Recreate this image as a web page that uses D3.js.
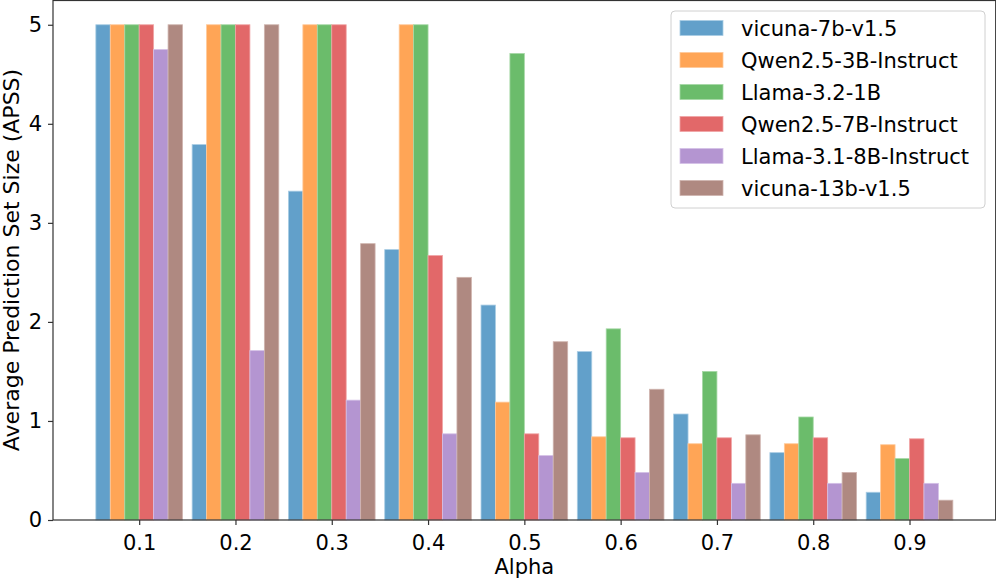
<!DOCTYPE html>
<html>
<head>
<meta charset="utf-8">
<script src="https://cdn.jsdelivr.net/npm/d3@7"></script>
<style>
  body { margin: 0; background: #fff; }
  text { font-family: "DejaVu Sans", sans-serif; fill: #000; }
</style>
</head>
<body>
<script>
// categories and series
var alphas = ["0.1", "0.2", "0.3", "0.4", "0.5", "0.6", "0.7", "0.8", "0.9"];
var models = ["vicuna-7b-v1.5", "Qwen2.5-3B-Instruct", "Llama-3.2-1B",
              "Qwen2.5-7B-Instruct", "Llama-3.1-8B-Instruct", "vicuna-13b-v1.5"];
var vicuna7b  = [5, 3.79, 3.32, 2.73, 2.17, 1.70, 1.07, 0.68, 0.28];
var qwen3b    = [5, 5, 5, 5, 1.19, 0.84, 0.77, 0.77, 0.76];
var llama1b   = [5, 5, 5, 5, 4.71, 1.93, 1.50, 1.04, 0.62];
var qwen7b    = [5, 5, 5, 2.67, 0.87, 0.83, 0.83, 0.83, 0.82];
var llama8b   = [4.75, 1.71, 1.21, 0.87, 0.65, 0.48, 0.37, 0.37, 0.37];
var vicuna13b = [5, 5, 2.79, 2.45, 1.80, 1.32, 0.86, 0.48, 0.20];
var yTicks = [0, 1, 2, 3, 4, 5];

var series = [vicuna7b, qwen3b, llama1b, qwen7b, llama8b, vicuna13b];
var colors = ["#62a0ca", "#ffa556", "#6bbc6b", "#e26869", "#b495d1", "#af8981"];
var edges  = ["#a9cce4", "#ffc99a", "#a6d8a6", "#f0a5a6", "#d4c0e6", "#cfb4ae"];

var W = 996, H = 579;
var margin = {top: 0, right: 0.3, bottom: 59, left: 53};
var width = W - margin.left - margin.right,
    height = H - margin.top - margin.bottom;

var barW = 0.15;
var x = d3.scaleLinear().domain([-0.895, 8.895]).range([0, width]);
var y = d3.scaleLinear().domain([0, 5.25]).range([height, 0]);

var svg = d3.select("body").append("svg")
    .attr("width", W).attr("height", H);
var g = svg.append("g")
    .attr("transform", "translate(" + margin.left + "," + margin.top + ")");

// bars
series.forEach(function(vals, s) {
  g.selectAll(".bar" + s)
    .data(vals)
    .enter().append("rect")
      .attr("x", function(d, i) { return x(i + (s - 3) * barW); })
      .attr("y", function(d) { return y(d); })
      .attr("width", x(barW) - x(0))
      .attr("height", function(d) { return y(0) - y(d); })
      .style("fill", colors[s])
      .style("stroke", edges[s])
      .style("stroke-width", 0.8);
});

// axes
var xAxis = g.append("g")
    .attr("transform", "translate(0," + height + ")")
    .call(d3.axisBottom(x).tickValues(d3.range(alphas.length))
      .tickFormat(function(i) { return alphas[i]; })
      .tickSize(5).tickPadding(6));
var yAxis = g.append("g")
    .call(d3.axisLeft(y).tickValues(yTicks).tickFormat(d3.format("d"))
      .tickSize(5).tickPadding(6));

[xAxis, yAxis].forEach(function(a) {
  a.select(".domain").remove();
  a.selectAll("line").attr("stroke", "#333").attr("stroke-width", 1.2);
  a.selectAll("text").style("font-size", "21px");
});
xAxis.selectAll("text").attr("dy", "0.9em");

// frame
g.append("rect")
  .attr("x", 0).attr("y", 0.5)
  .attr("width", width).attr("height", height - 0.5)
  .attr("fill", "none").attr("stroke", "#333").attr("stroke-width", 1.2);

// axis labels
svg.append("text")
  .attr("x", margin.left + width / 2).attr("y", 574)
  .attr("text-anchor", "middle").style("font-size", "21px")
  .text("Alpha");
svg.append("text")
  .attr("transform", "translate(19," + (height / 2) + ") rotate(-90)")
  .attr("text-anchor", "middle").style("font-size", "22px")
  .text("Average Prediction Set Size (APSS)");

// legend
var lg = svg.append("g").attr("transform", "translate(671,11)");
lg.append("rect")
  .attr("width", 314).attr("height", 197).attr("rx", 4)
  .attr("fill", "#fff").attr("fill-opacity", 0.8)
  .attr("stroke", "#d0d0d0").attr("stroke-width", 1);
models.forEach(function(m, i) {
  var row = lg.append("g").attr("transform", "translate(0," + (17 + i * 32) + ")");
  row.append("rect")
    .attr("x", 9).attr("y", -7.5).attr("width", 43).attr("height", 15)
    .style("fill", colors[i]).style("stroke", edges[i]).style("stroke-width", 0.8);
  row.append("text")
    .attr("x", 70).attr("y", 0).attr("dy", "0.36em")
    .style("font-size", "21px")
    .text(m);
});
</script>
</body>
</html>
